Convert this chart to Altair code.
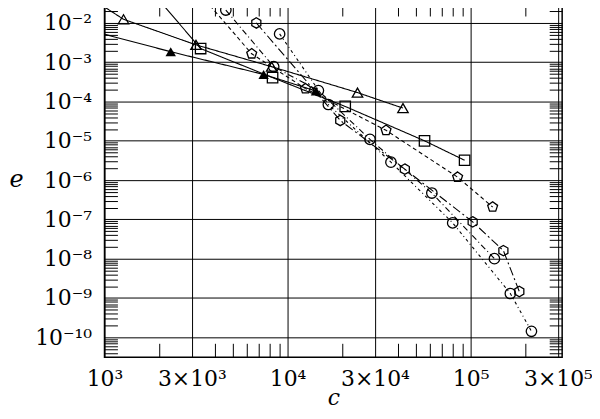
import altair as alt
import pandas as pd

# ---- data (cost c, error e) ----
tri_open_c = [800, 1270, 3160, 8190, 24100, 42700]
tri_open_e = [5.0e-2, 1.24e-2, 2.77e-3, 7.7e-4, 1.69e-4, 6.8e-5]

tri_fill_c = [700, 2300, 7400, 14300]
tri_fill_e = [8.0e-3, 1.85e-3, 4.9e-4, 1.85e-4]

sq_c = [1800, 3350, 8280, 20650, 56000, 92700]
sq_e = [6.5e-2, 2.23e-3, 4.06e-4, 7.5e-5, 1.0e-5, 3.2e-6]

pent_c = [3000, 6370, 12530, 34500, 84900, 131900]
pent_e = [9.5e-2, 1.64e-3, 2.13e-4, 1.85e-5, 1.19e-6, 2.07e-7]

circA_c = [4600, 8400, 14740, 28200, 61400, 134900]
circA_e = [2.13e-2, 7.7e-4, 1.9e-4, 1.09e-5, 4.69e-7, 1.0e-8]

hex_c = [6750, 19400, 43700, 102600, 151000, 184500]
hex_e = [1.0e-2, 3.3e-5, 1.9e-6, 8.65e-8, 1.6e-8, 1.46e-9]

circB_c = [9050, 16700, 36700, 79800, 164800, 214900]
circB_e = [5.27e-3, 8.4e-5, 2.86e-6, 8.15e-8, 1.3e-9, 1.42e-10]

x_major = [1e3, 3e3, 1e4, 3e4, 1e5, 3e5]
x_major_labels = ["10³", "3×10³", "10⁴", "3×10⁴", "10⁵", "3×10⁵"]
x_minor = [m * 10 ** k for k in (3, 4, 5) for m in (2, 4, 5, 6, 7, 8, 9)]
x_minor = [v for v in x_minor if v <= 316228]

y_major = [1e-10, 1e-9, 1e-8, 1e-7, 1e-6, 1e-5, 1e-4, 1e-3, 1e-2]
y_major_labels = ["10⁻¹⁰", "10⁻⁹", "10⁻⁸", "10⁻⁷", "10⁻⁶", "10⁻⁵", "10⁻⁴", "10⁻³", "10⁻²"]
y_minor = [m * 10.0 ** k for k in range(-11, -1) for m in range(2, 10)]
y_minor = [v for v in y_minor if 3.1e-11 <= v <= 3.4e-2]

series = [
    ("tri_open", tri_open_c, tri_open_e),
    ("tri_fill", tri_fill_c, tri_fill_e),
    ("square", sq_c, sq_e),
    ("pent", pent_c, pent_e),
    ("circA", circA_c, circA_e),
    ("hex", hex_c, hex_e),
    ("circB", circB_c, circB_e),
]
rows = []
for name, cs, es in series:
    for c, e in zip(cs, es):
        rows.append({"series": name, "c": c, "e": e})
df = pd.DataFrame(rows)
df_open = df[df.series != "tri_fill"]
df_fill = df[df.series == "tri_fill"]

names = [s[0] for s in series]
dashes = [[1, 0], [1, 0], [1, 0], [4, 3], [6, 3, 1, 3], [9, 3, 2, 3], [3, 3, 1, 3]]

PENT = "M0,-1L0.951,-0.309L0.588,0.809L-0.588,0.809L-0.951,-0.309Z"
HEX = "M0,-1L0.866,-0.5L0.866,0.5L0,1L-0.866,0.5L-0.866,-0.5Z"
open_names = ["tri_open", "square", "pent", "circA", "hex", "circB"]
open_shapes = ["triangle-up", "square", PENT, "circle", HEX, "circle"]


def label_expr(vals, labels):
    expr = "'" + labels[-1] + "'"
    for i in range(len(vals) - 2, -1, -1):
        thr = (vals[i] * vals[i + 1]) ** 0.5
        expr = f"datum.value < {thr} ? '{labels[i]}' : ({expr})"
    return expr


FONT = "DejaVu Serif"
xs = alt.Scale(type="log", domain=[1000, 316228], nice=False)
ys = alt.Scale(type="log", domain=[3.1e-11, 3.4e-2], nice=False)

x_main = alt.Axis(orient="bottom", values=x_major, labelExpr=label_expr(x_major, x_major_labels),
                  grid=True, gridColor="black", gridOpacity=1, gridWidth=1,
                  ticks=False, domain=False, labelFont=FONT, labelFontSize=22,
                  labelColor="black", labelPadding=11, labelOverlap=False, labelFlush=False,
                  title="c", titleFont=FONT, titleFontSize=22, titleFontStyle="italic",
                  titleFontWeight="normal", titleColor="black", titleY=41, titleBaseline="middle")
y_main = alt.Axis(orient="left", values=y_major, labelExpr=label_expr(y_major, y_major_labels),
                  grid=True, gridColor="black", gridOpacity=1, gridWidth=1,
                  ticks=False, domain=False, labelFont=FONT, labelFontSize=22,
                  labelColor="black", labelPadding=13, labelOverlap=False, labelFlush=False,
                  labelBaseline="middle",
                  title="e", titleFont=FONT, titleFontSize=24, titleFontStyle="italic",
                  titleFontWeight="normal", titleColor="black", titleAngle=0,
                  titleX=-89, titleY=178, titleAlign="center", titleBaseline="middle")


def tick_axis(orient, offset, vals, size):
    return alt.Axis(orient=orient, offset=offset, values=vals, labels=False, grid=False,
                    domain=False, ticks=True, tickSize=size, tickColor="black",
                    tickWidth=1, title=None)


lines = alt.Chart(df).mark_line(clip=True, color="black", strokeWidth=1.1).encode(
    x=alt.X("c:Q", scale=xs, axis=x_main),
    y=alt.Y("e:Q", scale=ys, axis=y_main),
    detail="series:N",
    strokeDash=alt.StrokeDash("series:N", scale=alt.Scale(domain=names, range=dashes), legend=None),
)

pts_open = alt.Chart(df_open).mark_point(clip=True, filled=False, color="black",
                                          strokeWidth=1.3, size=110, opacity=1).encode(
    x=alt.X("c:Q", scale=xs, axis=tick_axis("top", -357, x_minor, 14)),
    y=alt.Y("e:Q", scale=ys, axis=tick_axis("right", -460, y_minor, 13)),
    shape=alt.Shape("series:N", scale=alt.Scale(domain=open_names, range=open_shapes), legend=None),
)

pts_fill = alt.Chart(df_fill).mark_point(clip=True, filled=True, color="black", shape="triangle-up",
                                          size=110, opacity=1).encode(
    x=alt.X("c:Q", scale=xs, axis=tick_axis("bottom", -357, x_minor, 14)),
    y=alt.Y("e:Q", scale=ys, axis=tick_axis("left", -460, y_minor, 13)),
)

chart = alt.layer(lines, pts_open, pts_fill).resolve_axis(
    x="independent", y="independent"
).properties(
    width=460, height=357,
    autosize=alt.AutoSizeParams(type="none"),
    padding={"left": 97, "top": -7, "right": 30, "bottom": 53},
).configure_view(stroke="black", strokeWidth=1.5)

chart.save("out.html", embed_options={"renderer": "svg", "actions": False})
